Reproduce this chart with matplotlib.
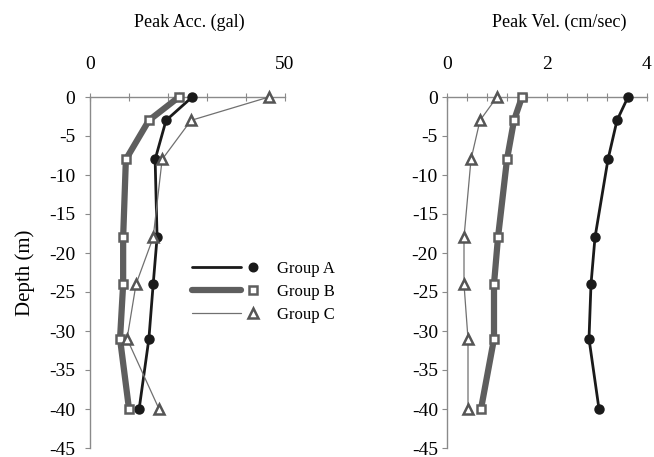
import matplotlib
matplotlib.use("Agg")
import matplotlib.pyplot as plt
from matplotlib.legend_handler import HandlerBase
from matplotlib.lines import Line2D
from matplotlib.ticker import MultipleLocator, FixedLocator, FuncFormatter

plt.rcParams['font.family'] = ['Liberation Serif', 'DejaVu Serif']

depth = [0, -3, -8, -18, -24, -31, -40]
acc_a = [26.2, 19.5, 16.7, 17.2, 16.2, 15.1, 12.6]
acc_b = [22.8, 15.1, 9.2, 8.5, 8.5, 7.7, 10.0]
acc_c = [45.9, 25.9, 18.5, 16.2, 11.8, 9.5, 17.7]
vel_a = [3.62, 3.40, 3.22, 2.96, 2.88, 2.84, 3.04]
vel_b = [1.50, 1.34, 1.20, 1.02, 0.94, 0.94, 0.68]
vel_c = [1.00, 0.66, 0.48, 0.34, 0.34, 0.42, 0.42]
group_names = ["Group A", "Group B", "Group C"]

styles = [
    dict(color='#1a1a1a', lw=2.0, marker='o', ms=6.5, mfc='#1a1a1a', mec='#1a1a1a', mew=1.0),
    dict(color='#5e5e5e', lw=4.5, marker='s', ms=6.0, mfc='white', mec='#5e5e5e', mew=1.8),
    dict(color='#707070', lw=0.9, marker='^', ms=7.5, mfc='white', mec='#555555', mew=1.8),
]

W, H = 654, 457
fig = plt.figure(figsize=(W / 100, H / 100), dpi=100)
ax1 = fig.add_axes([90 / W, 1 - 448 / H, 195 / W, 351 / H])
ax2 = fig.add_axes([447 / W, 1 - 448 / H, 200 / W, 351 / H])

spine_c = '#8a8a8a'
for ax, xmax, major, minor in [(ax1, 50, [0, 50], 10), (ax2, 4, [0, 2, 4], 0.4)]:
    ax.set_xlim(0, xmax)
    ax.set_ylim(-45, 0)
    for s in ['bottom', 'right']:
        ax.spines[s].set_visible(False)
    for s in ['top', 'left']:
        ax.spines[s].set_color(spine_c)
        ax.spines[s].set_linewidth(1.0)
    ax.xaxis.tick_top()
    ax.xaxis.set_major_locator(FixedLocator(major))
    ax.xaxis.set_minor_locator(MultipleLocator(minor))
    ax.yaxis.set_major_locator(MultipleLocator(5))
    ax.yaxis.set_major_formatter(FuncFormatter(lambda v, p: '%d' % v))
    ax.tick_params(axis='x', which='both', direction='inout', length=6, width=0.8,
                   color=spine_c, pad=14, labelsize=14)
    ax.tick_params(axis='y', which='both', direction='out', length=3.5, width=0.8,
                   color=spine_c, labelsize=14)

ax1.tick_params(axis='y', pad=7)
ax2.tick_params(axis='y', pad=3)

for vals, st in zip([acc_a, acc_b, acc_c], styles):
    ax1.plot(vals, depth, clip_on=False, zorder=3, **st)
for vals, st in zip([vel_a, vel_b, vel_c], styles):
    ax2.plot(vals, depth, clip_on=False, zorder=3, **st)

ax1.set_ylabel('Depth (m)', fontsize=15, labelpad=10)
fig.text(189 / W, 1 - 22 / H, 'Peak Acc. (gal)', ha='center', va='center', fontsize=13)
fig.text(559 / W, 1 - 22 / H, 'Peak Vel. (cm/sec)', ha='center', va='center', fontsize=13)


class SplitHandler(HandlerBase):
    def __init__(self, st):
        super().__init__()
        self.st = st

    def create_artists(self, legend, orig_handle, xdescent, ydescent, width, height, fontsize, trans):
        y = height / 2 - ydescent
        ln = Line2D([-xdescent, -xdescent + width * 0.73], [y, y], color=self.st['color'],
                    lw=self.st['lw'], transform=trans, solid_capstyle='round')
        mk = Line2D([-xdescent + width * 0.91], [y], linestyle='none', marker=self.st['marker'],
                    ms=self.st['ms'] * 0.95, mfc=self.st['mfc'], mec=self.st['mec'],
                    mew=self.st['mew'], transform=trans)
        return [ln, mk]


handles = [Line2D([], [], **st) for st in styles]
hmap = {h: SplitHandler(st) for h, st in zip(handles, styles)}
leg = ax1.legend(handles, group_names, handler_map=hmap, loc='upper left',
                 bbox_to_anchor=((192 - 90) / 195, 1 - (261 - 97) / 351),
                 frameon=False, fontsize=12, handlelength=4.0, handletextpad=1.1,
                 labelspacing=0.42, borderpad=0, borderaxespad=0)
leg.set_clip_on(False)

fig.savefig('out.png', dpi=100)
